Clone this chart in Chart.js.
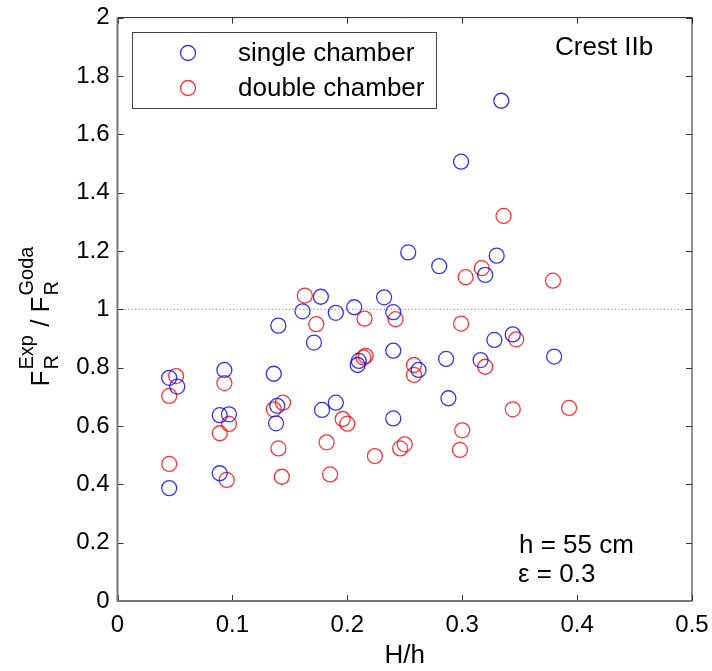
<!DOCTYPE html>
<html lang="en">
<head>
<meta charset="UTF-8">
<title>Crest IIb - F_R Exp / Goda</title>
<script src="https://cdn.jsdelivr.net/npm/chart.js"></script>
<style>
    body { margin: 0; padding: 0; background: #fff; }
    #wrap { width: 712px; height: 671px; }
</style>
</head>
<body>
<div id="wrap"><canvas id="chart" width="712" height="671"></canvas></div>
<script>
// single chamber (blue)
const singleX = [0.045, 0.045, 0.052, 0.089, 0.089, 0.097, 0.093, 0.136, 0.138, 0.139, 0.140, 0.161, 0.171,
    0.177, 0.178, 0.190, 0.190, 0.206, 0.209, 0.210, 0.232, 0.240, 0.240, 0.240, 0.253, 0.262, 0.280,
    0.286, 0.288, 0.299, 0.316, 0.320, 0.328, 0.330, 0.334, 0.344, 0.380];
const singleY = [0.387, 0.765, 0.735, 0.438, 0.637, 0.640, 0.792, 0.779, 0.609, 0.669, 0.944, 0.993, 0.886,
    1.043, 0.655, 0.988, 0.680, 1.007, 0.809, 0.823, 1.041, 0.990, 0.858, 0.626, 1.195, 0.792, 1.148,
    0.830, 0.695, 1.506, 0.826, 1.118, 0.895, 1.184, 1.715, 0.914, 0.838];

// double chamber (red)
const doubleX = [0.045, 0.045, 0.051, 0.089, 0.093, 0.095, 0.097, 0.136, 0.140, 0.143, 0.144, 0.163, 0.173,
    0.182, 0.185, 0.196, 0.200, 0.214, 0.215, 0.216, 0.224, 0.242, 0.246, 0.250, 0.258, 0.258, 0.298,
    0.299, 0.300, 0.303, 0.317, 0.320, 0.336, 0.344, 0.347, 0.379, 0.393];
const doubleY = [0.470, 0.703, 0.771, 0.575, 0.747, 0.415, 0.607, 0.657, 0.523, 0.426, 0.680, 1.047, 0.949,
    0.544, 0.434, 0.624, 0.608, 0.835, 0.968, 0.840, 0.497, 0.966, 0.523, 0.537, 0.809, 0.775, 0.518,
    0.951, 0.585, 1.110, 1.141, 0.803, 1.320, 0.657, 0.897, 1.098, 0.662];

const seriesNames = ['single chamber', 'double chamber'];
const xTickLabels = ['0', '0.1', '0.2', '0.3', '0.4', '0.5'];
const yTickLabels = ['0', '0.2', '0.4', '0.6', '0.8', '1', '1.2', '1.4', '1.6', '1.8', '2'];
const refLine = 1;

const FONT = '"Liberation Sans", Arial, sans-serif';
const BLUE = 'rgba(0, 0, 255, 0.8)';
const RED = 'rgba(255, 0, 0, 0.8)';

function toPoints(xs, ys) {
    return xs.map((x, i) => ({ x: x, y: ys[i] }));
}

// frame, inward ticks, reference line, legend and texts
const decorations = {
    id: 'decorations',
    beforeDatasetsDraw(chart) {
        const ctx = chart.ctx;
        const a = chart.chartArea;
        const yPix = chart.scales.y.getPixelForValue(refLine);
        ctx.save();
        ctx.strokeStyle = '#999';
        ctx.lineWidth = 1;
        ctx.setLineDash([1.5, 2]);
        ctx.beginPath();
        ctx.moveTo(a.left, yPix);
        ctx.lineTo(a.right, yPix);
        ctx.stroke();
        ctx.restore();
    },
    afterDraw(chart) {
        const ctx = chart.ctx;
        const a = chart.chartArea;
        const xs = chart.scales.x, ys = chart.scales.y;
        ctx.save();

        // ticks
        ctx.strokeStyle = '#333';
        ctx.lineWidth = 1;
        ctx.beginPath();
        xs.ticks.forEach(t => {
            const p = Math.round(xs.getPixelForValue(t.value)) + 0.5;
            ctx.moveTo(p, a.bottom); ctx.lineTo(p, a.bottom - 6);
            ctx.moveTo(p, a.top); ctx.lineTo(p, a.top + 6);
        });
        ys.ticks.forEach(t => {
            const p = Math.round(ys.getPixelForValue(t.value)) + 0.5;
            ctx.moveTo(a.left, p); ctx.lineTo(a.left + 6, p);
            ctx.moveTo(a.right, p); ctx.lineTo(a.right - 6, p);
        });
        ctx.stroke();

        // frame
        ctx.strokeStyle = '#222';
        ctx.lineWidth = 1;
        ctx.beginPath();
        ctx.moveTo(a.left, a.top); ctx.lineTo(a.right, a.top); ctx.lineTo(a.right, a.bottom);
        ctx.stroke();
        ctx.strokeStyle = '#777';
        ctx.lineWidth = 2;
        ctx.beginPath();
        ctx.moveTo(a.left, a.top); ctx.lineTo(a.left, a.bottom); ctx.lineTo(a.right, a.bottom);
        ctx.stroke();

        // legend
        ctx.fillStyle = '#fff';
        ctx.fillRect(132, 32, 304, 76);
        ctx.strokeStyle = '#444';
        ctx.lineWidth = 1;
        ctx.strokeRect(132.5, 32.5, 304, 76);
        const legendY = [53, 88];
        const legendCol = [BLUE, RED];
        ctx.font = '26px ' + FONT;
        ctx.textBaseline = 'middle';
        ctx.textAlign = 'left';
        seriesNames.forEach((name, i) => {
            ctx.strokeStyle = legendCol[i];
            ctx.lineWidth = 1.3;
            ctx.beginPath();
            ctx.arc(188, legendY[i], 7.5, 0, Math.PI * 2);
            ctx.stroke();
            ctx.fillStyle = '#000';
            ctx.fillText(name, 238, legendY[i] + 1);
        });

        // annotations
        ctx.fillText('Crest IIb', 555, 48);
        ctx.fillText('h = 55 cm', 519, 546);
        ctx.fillText('\u03b5 = 0.3', 518, 575);

        // x title
        ctx.textAlign = 'center';
        ctx.fillText('H/h', (a.left + a.right) / 2, 656);

        // y title, rotated, with sub and superscripts
        ctx.translate(49, 316);
        ctx.rotate(-Math.PI / 2);
        const big = '26px ' + FONT, small = '20px ' + FONT;
        const parts = [
            { t: 'F' }, { sub: 'R', sup: 'Exp' }, { t: ' / F' }, { sub: 'R', sup: 'Goda' }
        ];
        const widths = parts.map(p => {
            if (p.t) { ctx.font = big; return ctx.measureText(p.t).width; }
            ctx.font = small;
            return Math.max(ctx.measureText(p.sub).width, ctx.measureText(p.sup).width) + 2;
        });
        let x = -widths.reduce((s, w) => s + w, 0) / 2;
        ctx.textAlign = 'left';
        ctx.textBaseline = 'alphabetic';
        parts.forEach((p, i) => {
            if (p.t) {
                ctx.font = big;
                ctx.fillText(p.t, x, 0);
            } else {
                ctx.font = small;
                ctx.fillText(p.sub, x + 1, 9);
                ctx.fillText(p.sup, x + 1, -16);
            }
            x += widths[i];
        });
        ctx.restore();
    }
};

new Chart(document.getElementById('chart').getContext('2d'), {
    type: 'scatter',
    data: {
        datasets: [{
            label: seriesNames[0],
            data: toPoints(singleX, singleY),
            borderColor: BLUE,
            backgroundColor: 'rgba(0,0,0,0)',
            borderWidth: 1.3,
            pointRadius: 7.5,
            pointHoverRadius: 7.5
        }, {
            label: seriesNames[1],
            data: toPoints(doubleX, doubleY),
            borderColor: RED,
            backgroundColor: 'rgba(0,0,0,0)',
            borderWidth: 1.3,
            pointRadius: 7.5,
            pointHoverRadius: 7.5
        }]
    },
    options: {
        responsive: false,
        animation: false,
        layout: { padding: { top: 17.6, right: 20, left: 0, bottom: 0 } },
        plugins: { legend: { display: false }, tooltip: { enabled: false } },
        scales: {
            x: {
                type: 'linear', min: 0, max: 0.5,
                grid: { display: false, drawTicks: false },
                border: { display: false },
                ticks: {
                    stepSize: 0.1, padding: 10, color: '#000',
                    font: { family: FONT, size: 24 },
                    callback: (v, i) => xTickLabels[i]
                },
                afterFit: s => { s.height = 70; s.paddingLeft = 0; s.paddingRight = 0; }
            },
            y: {
                type: 'linear', min: 0, max: 2,
                grid: { display: false, drawTicks: false },
                border: { display: false },
                ticks: {
                    stepSize: 0.2, padding: 8, color: '#000',
                    font: { family: FONT, size: 24 },
                    callback: (v, i) => yTickLabels[i]
                },
                afterFit: s => { s.width = 117.5; s.paddingTop = 0; s.paddingBottom = 0; }
            }
        }
    },
    plugins: [decorations]
});
</script>
</body>
</html>
